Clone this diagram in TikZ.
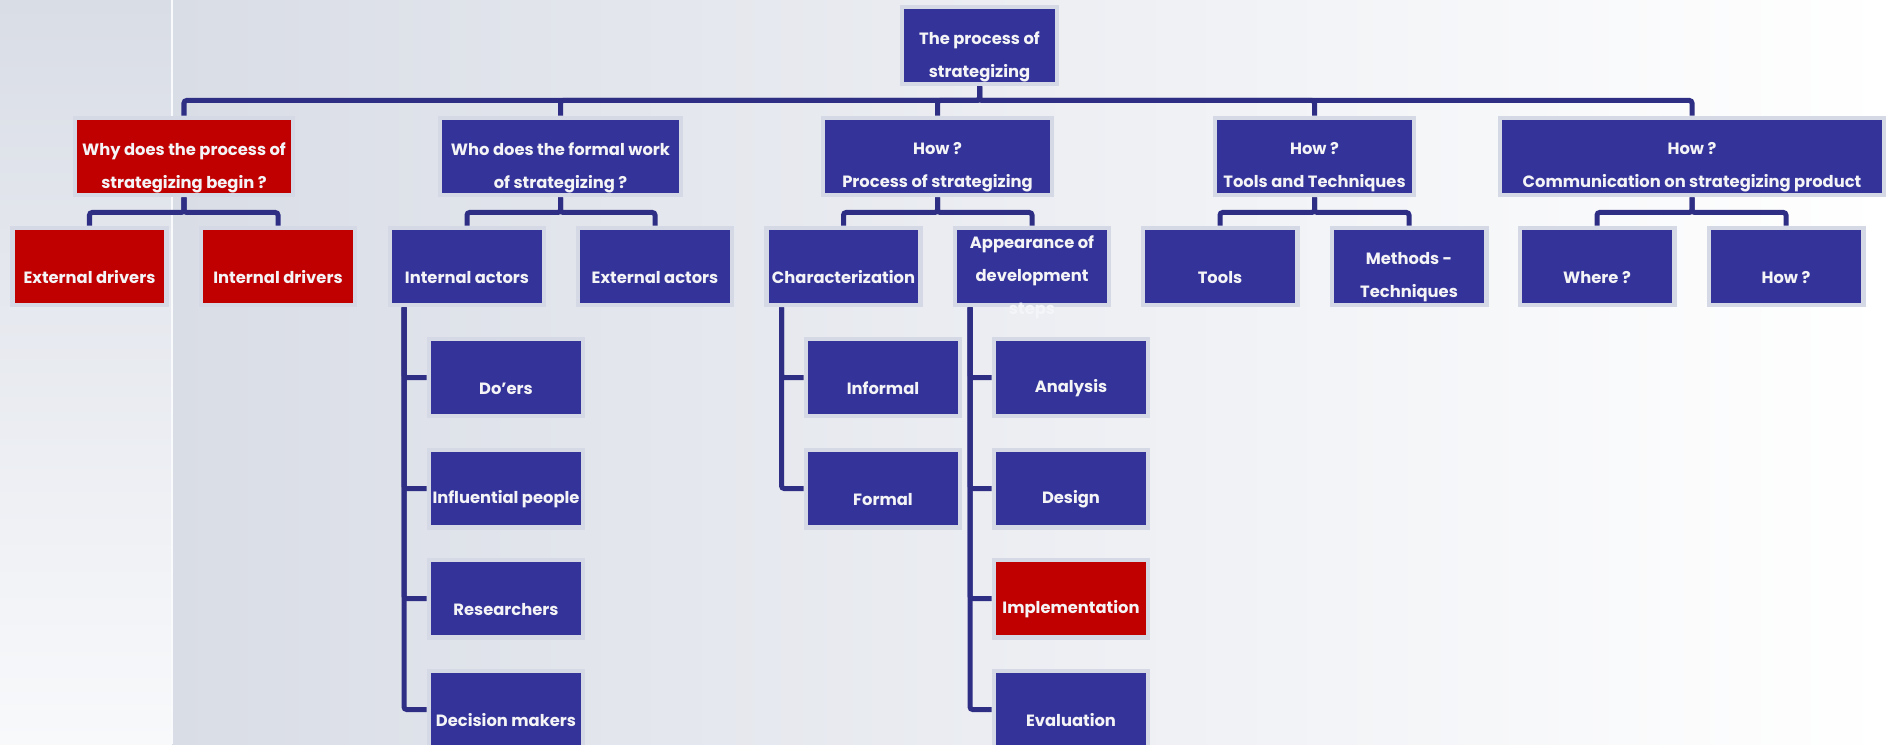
\documentclass[tikz,border=0pt]{standalone}
\usepackage{fontspec}
\setmainfont{Poppins}

\definecolor{boxblue}{HTML}{333399}
\definecolor{boxred}{HTML}{C00000}
\definecolor{linkblue}{HTML}{2E2E85}
\definecolor{framecol}{HTML}{D5D9E5}
\definecolor{bgtop}{HTML}{D9DDE6}
\definecolor{bgbot}{HTML}{F8F9FB}
\definecolor{txtcol}{HTML}{F4F4F6}

\tikzset{
  box/.style={fill=boxblue, draw=framecol, line width=2.56pt,
              inner sep=0pt, minimum height=1.55cm, minimum width=#1},
  box/.default=3.09cm,
  redbox/.style={box=#1, fill=boxred},
  redbox/.default=3.09cm,
  txt/.style={text=txtcol, align=center, yshift=-0.22cm,
              font=\bfseries\fontsize{9.3}{18.8}\selectfont},
  link/.style={draw=linkblue, line width=2.85pt, rounded corners=1.5pt}
}

\begin{document}
\begin{tikzpicture}[x=0.02cm,y=-0.02cm]

\clip (0,0) rectangle (1886,744);
\shade[top color=bgtop, bottom color=bgbot]
     (0,0) rectangle (172,744);
\shade[left color=bgtop, right color=white]
     (172,0) rectangle (1886,744);
\draw[white!85!bgtop, line width=1.7pt] (172,0) -- (172,744);

\node[box=3.11cm] at (979.5,45.5) (root)
     {} node[txt] at (root.center) {The process of\\strategizing};

\node[redbox=4.37cm] at (184,156.5) (why)
     {} node[txt] at (why.center) {Why does the process of\\strategizing begin ?};
\node[box=4.83cm] at (560.5,156.5) (who)
     {} node[txt] at (who.center) {Who does the formal work\\of strategizing ?};
\node[box=4.59cm] at (937.5,156.5) (howproc)
     {} node[txt] at (howproc.center) {How ?\\Process of strategizing};
\node[box=3.99cm] at (1314.5,156.5) (howtools)
     {} node[txt] at (howtools.center) {How ?\\Tools and Techniques};
\node[box=7.69cm] at (1692,156.5) (howcomm)
     {} node[txt] at (howcomm.center) {How ?\\Communication on strategizing product};

\node[redbox] at (89.5,266.5) (extdrv)
     {} node[txt] at (extdrv.center) {External drivers};
\node[redbox] at (278,266.5) (intdrv)
     {} node[txt] at (intdrv.center) {Internal drivers};
\node[box] at (467,266.5) (intact)
     {} node[txt] at (intact.center) {Internal actors};
\node[box] at (655,266.5) (extact)
     {} node[txt] at (extact.center) {External actors};
\node[box] at (843.5,266.5) (charac)
     {} node[txt] at (charac.center) {Characterization};
\node[box] at (1032,266.5) (appear)
     {} node[txt] at (appear.center)
     {Appearance of\\development\\\textcolor{white!70!bgtop}{steps}};
\node[box] at (1220,266.5) (tools)
     {} node[txt] at (tools.center) {Tools};
\node[box] at (1409,266.5) (methods)
     {} node[txt] at (methods.center) {Methods -\\Techniques};
\node[box] at (1597,266.5) (where)
     {} node[txt] at (where.center) {Where ?};
\node[box] at (1786,266.5) (howq)
     {} node[txt] at (howq.center) {How ?};

\node[box] at (506,377.5) (doers)
     {} node[txt] at (doers.center) {Do'ers};
\node[box] at (506,488.5) (influ)
     {} node[txt] at (influ.center) {Influential people};
\node[box] at (506,598.5) (research)
     {} node[txt] at (research.center) {Researchers};
\node[box] at (506,709.5) (decide)
     {} node[txt] at (decide.center) {Decision makers};

\node[box] at (883,377.5) (informal)
     {} node[txt] at (informal.center) {Informal};
\node[box] at (883,488.5) (formal)
     {} node[txt] at (formal.center) {Formal};

\node[box] at (1071,377.5) (analysis)
     {} node[txt] at (analysis.center) {Analysis};
\node[box] at (1071,488.5) (design)
     {} node[txt] at (design.center) {Design};
\node[redbox] at (1071,598.5) (implement)
     {} node[txt] at (implement.center) {Implementation};
\node[box] at (1071,709.5) (evaluate)
     {} node[txt] at (evaluate.center) {Evaluation};

\foreach \c in {why,who,howproc,howtools,howcomm}
  \draw[link] (root.south) -- ++(0,14) -| (\c.north);

\foreach \p/\c in {why/extdrv,why/intdrv,who/intact,who/extact,
                   howproc/charac,howproc/appear,howtools/tools,
                   howtools/methods,howcomm/where,howcomm/howq}
  \draw[link] (\p.south) -- ++(0,15) -| (\c.north);

\foreach \c in {doers,influ,research,decide}
  \draw[link] ([xshift=0.33cm]intact.south west) |- (\c.west);
\foreach \c in {informal,formal}
  \draw[link] ([xshift=0.35cm]charac.south west) |- (\c.west);
\foreach \c in {analysis,design,implement,evaluate}
  \draw[link] ([xshift=0.35cm]appear.south west) |- (\c.west);

\end{tikzpicture}
\end{document}
